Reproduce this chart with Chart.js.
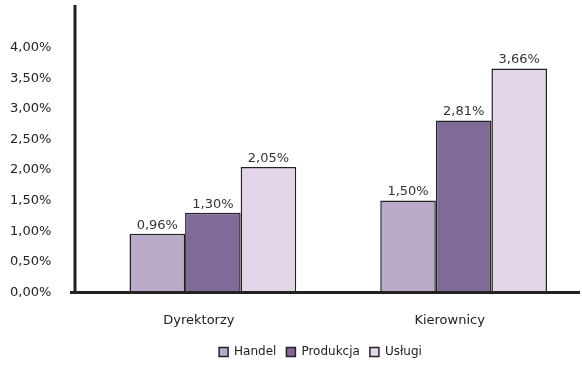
<!DOCTYPE html>
<html>
<head>
<meta charset="utf-8">
<script src="https://cdn.jsdelivr.net/npm/chart.js@4/dist/chart.umd.min.js"></script>
<style>
  html, body { margin: 0; padding: 0; background: #fff; overflow: hidden; }
  #wrap { width: 590px; height: 366px; }
</style>
</head>
<body>
<div id="wrap"><canvas id="myChart" width="590" height="366"></canvas></div>
<script>
const categories = ['Dyrektorzy', 'Kierownicy'];
const handel = [0.96, 1.50];
const produkcja = [1.30, 2.81];
const uslugi = [2.05, 3.66];
const yTicks = [0, 0.5, 1, 1.5, 2, 2.5, 3, 3.5, 4];

const fmt = v => v.toFixed(2).replace('.', ',') + '%';
const FONT = 'DejaVu Sans, Verdana, sans-serif';

// value labels above every bar + the two heavy axis lines
const extras = {
    id: 'extras',
    afterLayout(chart) {
        // legend sits a bit right of the canvas centre and a little higher
        const lg = chart.legend;
        lg.left += 21;
        lg.right += 21;
        lg.top -= 4;
        lg.bottom -= 4;
    },
    afterDatasetsDraw(chart) {
        const ctx = chart.ctx;
        const y0 = chart.scales.y.getPixelForValue(0);

        ctx.save();
        ctx.strokeStyle = '#222';
        ctx.lineWidth = 3;
        ctx.beginPath();
        ctx.moveTo(75, 5);
        ctx.lineTo(75, y0 + 1);
        ctx.moveTo(70, y0);
        ctx.lineTo(580, y0);
        ctx.stroke();

        ctx.fillStyle = '#333';
        ctx.font = '13px ' + FONT;
        ctx.textAlign = 'center';
        ctx.textBaseline = 'bottom';
        chart.data.datasets.forEach((ds, i) => {
            chart.getDatasetMeta(i).data.forEach((bar, j) => {
                ctx.fillText(fmt(ds.data[j]), bar.x, bar.y - 2);
            });
        });
        ctx.restore();
    }
};

const ctx = document.getElementById('myChart').getContext('2d');
const myChart = new Chart(ctx, {
    type: 'bar',
    data: {
        labels: categories,
        datasets: [
            { label: 'Handel', data: handel, backgroundColor: '#b9aac9', borderColor: '#222', borderWidth: 1.5 },
            { label: 'Produkcja', data: produkcja, backgroundColor: '#806a98', borderColor: '#222', borderWidth: 1.5 },
            { label: 'Usługi', data: uslugi, backgroundColor: '#e2d6e8', borderColor: '#222', borderWidth: 1.5 }
        ]
    },
    options: {
        responsive: false,
        animation: false,
        layout: { padding: { left: 10, top: 0, right: 1, bottom: 0 } },
        datasets: { bar: { categoryPercentage: 0.665, barPercentage: 1 } },
        plugins: {
            tooltip: { enabled: false },
            legend: {
                position: 'bottom',
                maxHeight: 26,
                labels: {
                    boxWidth: 9,
                    boxHeight: 9,
                    padding: 10,
                    color: '#222',
                    font: { family: FONT, size: 12 }
                }
            }
        },
        scales: {
            x: {
                grid: { display: false },
                border: { display: false },
                ticks: {
                    color: '#222',
                    padding: 12,
                    labelOffset: -14,
                    font: { family: FONT, size: 13 }
                }
            },
            y: {
                min: 0,
                max: 4.65,
                grid: { display: false },
                border: { display: false },
                afterBuildTicks: scale => {
                    scale.ticks = yTicks.map(v => ({ value: v }));
                },
                afterFit: scale => { scale.width = 77.5; },
                ticks: {
                    color: '#222',
                    padding: 0,
                    crossAlign: 'far',
                    font: { family: FONT, size: 13 },
                    callback: v => fmt(v)
                }
            }
        }
    },
    plugins: [extras]
});
</script>
</body>
</html>
